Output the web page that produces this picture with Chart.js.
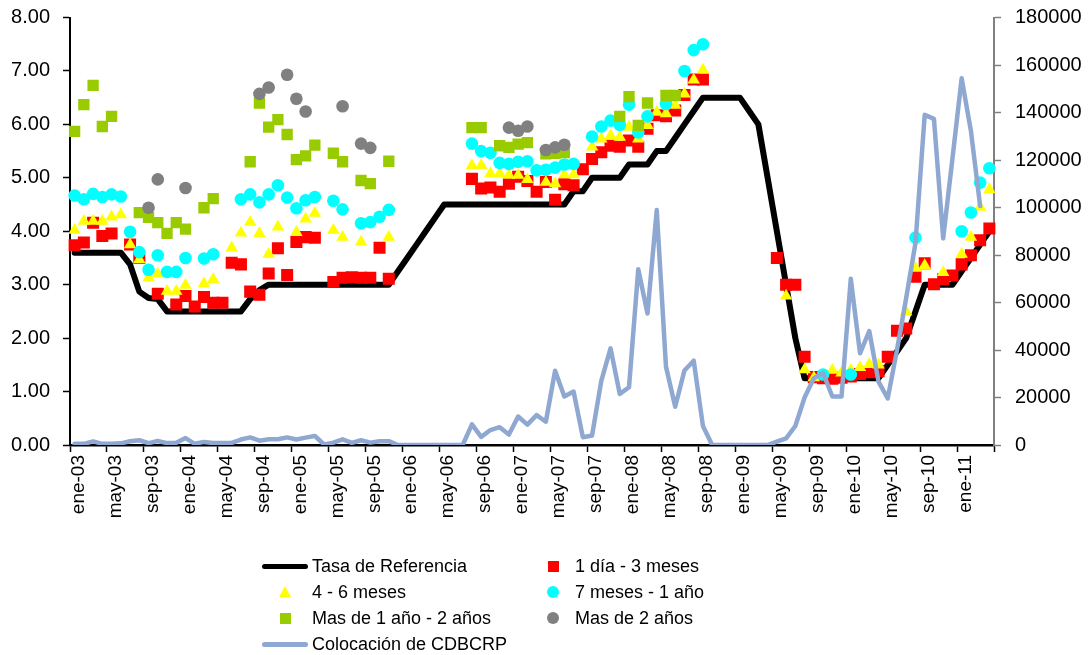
<!DOCTYPE html>
<html lang="es">
<head>
<meta charset="utf-8">
<title>Tasa de referencia y tasas de CDBCRP</title>
<script src="https://cdn.jsdelivr.net/npm/chart.js@4.4.1/dist/chart.umd.min.js"></script>
<style>
  html, body { margin: 0; padding: 0; background: #fff; }
  #wrap { position: relative; width: 1092px; height: 655px; overflow: hidden; }
  #grafico { position: absolute; left: 0; top: 0; }
  #leyenda { position: absolute; left: 0; top: 0; width: 1092px; height: 655px; pointer-events: none;
             font-family: "Liberation Sans", Arial, sans-serif; font-size: 18px; color: #000; }
  .item { position: absolute; height: 22px; line-height: 22px; white-space: nowrap; }
  .item .txt { position: absolute; top: 0; }
  .mk { position: absolute; }
</style>
</head>
<body>
<div id="wrap">
  <canvas id="grafico" width="1092" height="655"></canvas>
  <div id="leyenda"></div>
</div>
<script>
// Meses (ene-03 a abr-11)
const categorias = [
  'ene-03','feb-03','mar-03','abr-03','may-03','jun-03','jul-03','ago-03','sep-03','oct-03','nov-03','dic-03',
  'ene-04','feb-04','mar-04','abr-04','may-04','jun-04','jul-04','ago-04','sep-04','oct-04','nov-04','dic-04',
  'ene-05','feb-05','mar-05','abr-05','may-05','jun-05','jul-05','ago-05','sep-05','oct-05','nov-05','dic-05',
  'ene-06','feb-06','mar-06','abr-06','may-06','jun-06','jul-06','ago-06','sep-06','oct-06','nov-06','dic-06',
  'ene-07','feb-07','mar-07','abr-07','may-07','jun-07','jul-07','ago-07','sep-07','oct-07','nov-07','dic-07',
  'ene-08','feb-08','mar-08','abr-08','may-08','jun-08','jul-08','ago-08','sep-08','oct-08','nov-08','dic-08',
  'ene-09','feb-09','mar-09','abr-09','may-09','jun-09','jul-09','ago-09','sep-09','oct-09','nov-09','dic-09',
  'ene-10','feb-10','mar-10','abr-10','may-10','jun-10','jul-10','ago-10','sep-10','oct-10','nov-10','dic-10',
  'ene-11','feb-11','mar-11','abr-11'
];

// Tasa de referencia (%)
const tasaReferencia = [
  3.60,3.60,3.60,3.60,3.60,3.60,3.38,2.87,2.75,2.73,2.50,2.50,
  2.50,2.50,2.50,2.50,2.50,2.50,2.50,2.73,2.90,3.00,3.00,3.00,
  3.00,3.00,3.00,3.00,3.00,3.00,3.00,3.00,3.00,3.00,3.00,3.25,
  3.50,3.75,4.00,4.25,4.50,4.50,4.50,4.50,4.50,4.50,4.50,4.50,
  4.50,4.50,4.50,4.50,4.50,4.50,4.75,4.75,5.00,5.00,5.00,5.00,
  5.25,5.25,5.25,5.50,5.50,5.75,6.00,6.25,6.50,6.50,6.50,6.50,
  6.50,6.25,6.00,5.00,4.00,3.00,2.00,1.25,1.25,1.25,1.25,1.25,
  1.25,1.25,1.25,1.25,1.50,1.75,2.00,2.50,3.00,3.00,3.00,3.00,
  3.25,3.50,3.75,4.00
];

// 1 dia - 3 meses (%)
const plazo1d3m = [
  3.74,3.79,4.16,3.91,3.96,null,3.75,3.50,null,2.83,null,2.63,
  2.79,2.59,2.77,2.66,2.66,3.41,3.38,2.87,2.81,3.21,3.68,3.18,
  3.80,3.89,3.88,null,3.05,3.13,3.14,3.13,3.13,3.69,3.11,null,
  null,null,null,null,null,null,null,4.98,4.80,4.82,4.74,4.89,
  5.02,4.94,4.74,4.92,4.59,4.88,4.86,5.16,5.35,5.48,5.60,5.58,
  5.70,5.58,5.92,6.17,6.15,6.26,6.55,6.84,6.84,null,null,null,
  null,null,null,null,3.50,3.00,3.00,1.65,1.27,1.25,1.24,1.26,
  1.28,1.33,1.36,1.38,1.65,2.14,2.18,3.15,3.40,3.01,3.10,3.17,
  3.38,3.55,3.83,4.05
];

// 4 - 6 meses (%)
const plazo4m6m = [
  4.02,4.19,4.19,4.19,4.27,4.31,3.75,3.47,3.13,3.20,2.88,2.88,
  2.99,null,3.02,3.10,null,3.69,3.97,4.17,3.96,3.57,4.08,null,
  3.98,4.23,4.34,null,4.02,3.89,null,3.80,null,null,3.89,null,
  null,null,null,null,null,null,null,5.23,5.23,5.08,5.08,5.05,
  5.05,4.97,null,4.92,4.89,5.06,5.06,null,5.58,5.73,5.79,5.76,
  5.95,5.73,5.98,6.23,6.20,6.36,6.57,6.83,7.02,null,null,null,
  null,null,null,null,null,2.79,null,1.41,1.26,null,1.40,1.35,
  1.40,1.45,1.51,1.50,null,null,2.49,3.31,3.36,null,3.23,null,
  3.57,3.89,4.45,4.78
];

// 7 meses - 1 año (%)
const plazo7m1a = [
  4.67,4.60,4.70,4.64,4.69,4.65,3.99,3.61,3.28,3.55,3.24,3.24,
  3.50,null,3.49,3.57,null,null,4.60,4.69,4.54,4.69,4.86,4.63,
  4.43,4.58,4.64,null,4.57,4.41,null,4.15,4.17,4.27,4.40,null,
  null,null,null,null,null,null,null,5.64,5.50,5.47,5.28,5.26,
  5.30,5.31,5.14,5.15,5.19,5.25,5.26,null,5.77,5.96,6.07,5.99,
  6.37,5.85,6.15,null,6.38,null,7.00,7.39,7.50,null,null,null,
  null,null,null,null,null,null,null,null,null,1.32,null,null,
  1.32,null,null,null,null,null,null,3.88,null,null,null,null,
  4.00,4.35,4.91,5.18
];

// Mas de 1 año - 2 años (%)
const plazo1a2a = [
  5.87,6.37,6.73,5.96,6.15,null,null,4.35,4.26,4.16,3.96,4.16,
  4.04,null,4.44,4.61,null,null,null,5.30,6.40,5.95,6.09,5.81,
  5.34,5.41,5.61,null,5.46,5.30,null,4.95,4.89,null,5.31,null,
  null,null,null,null,null,null,null,5.94,5.94,null,5.60,5.57,
  5.63,5.66,null,5.45,5.46,5.47,null,null,null,null,null,6.15,
  6.52,5.98,6.40,null,6.54,6.54,null,null,null,null,null,null,
  null,null,null,null,null,null,null,null,null,null,null,null,
  null,null,null,null,null,null,null,null,null,null,null,null,
  null,null,null,null
];

// Mas de 2 años (%)
const plazoMas2a = [
  null,null,null,null,null,null,null,null,4.44,4.97,null,null,
  4.81,null,null,null,null,null,null,null,6.57,6.69,null,6.93,
  6.48,6.24,null,null,null,6.34,null,5.64,5.56,null,null,null,
  null,null,null,null,null,null,null,null,null,null,null,5.94,
  5.88,5.96,null,5.52,5.57,5.62,null,null,null,null,null,null,
  null,null,null,null,null,null,null,null,null,null,null,null,
  null,null,null,null,null,null,null,null,null,null,null,null,
  null,null,null,null,null,null,null,null,null,null,null,null,
  null,null,null,null
];

// Colocación de CDBCRP (millones, eje derecho)
const colocacionCDBCRP = [
  500,500,1500,500,500,700,1600,2000,800,1700,800,900,
  2900,500,1300,800,800,900,2300,3200,1800,2400,2400,3200,
  2300,3100,3800,200,1000,2400,900,2000,1000,1600,1600,0,
  0,0,0,0,0,0,0,8700,3400,6300,7500,4400,
  12000,8600,12600,9800,31300,20400,22500,3300,4000,27000,40700,21500,
  24300,74000,55400,98900,33000,16100,31400,35500,8000,0,0,0,
  0,0,0,0,1400,2800,8000,20000,28100,30400,20400,20400,
  70000,38600,48000,26700,19600,40000,62000,85000,139000,137300,87000,120500,
  154400,132300,100600,null
];

const FUENTE = '"Liberation Sans", Arial, sans-serif';

function serieMarcas(label, data, estilo, radio, color, orden) {
  return {
    type: 'line', label, data, yAxisID: 'y', showLine: false, order: orden,
    pointStyle: estilo, pointRadius: radio, pointHoverRadius: radio,
    pointBackgroundColor: color, pointBorderColor: color, pointBorderWidth: 0,
    backgroundColor: color, borderColor: color,
    legendMarker: estilo
  };
}

const datasets = [
  { type: 'line', label: 'Tasa de Referencia', data: tasaReferencia, yAxisID: 'y', order: 6,
    borderColor: '#000000', backgroundColor: '#000000', borderWidth: 6, pointRadius: 0,
    borderJoinStyle: 'round', borderCapStyle: 'round', tension: 0, legendMarker: 'line' },
  serieMarcas('1 día - 3 meses', plazo1d3m, 'rect', 8.5, '#FF0000', 5),
  serieMarcas('4 - 6 meses', plazo4m6m, 'triangle', 7.2, '#FFFF00', 4),
  serieMarcas('7 meses  - 1 año', plazo7m1a, 'circle', 6.3, '#00FFFF', 3),
  serieMarcas('Mas de 1 año - 2 años', plazo1a2a, 'rect', 8, '#99CC00', 2),
  serieMarcas('Mas de 2 años', plazoMas2a, 'circle', 6.3, '#808080', 1),
  { type: 'line', label: 'Colocación de CDBCRP', data: colocacionCDBCRP, yAxisID: 'y1', order: 0,
    borderColor: '#8FA8D1', backgroundColor: '#8FA8D1', borderWidth: 4.5, pointRadius: 0,
    borderJoinStyle: 'round', borderCapStyle: 'round', tension: 0, legendMarker: 'line' }
];

// Ejes verticales con ancho fijo y sin margen superior extra
function ajustarEjeVertical(ancho) {
  return (s) => { s.width = ancho; s.paddingTop = 0; s.paddingBottom = 0; };
}

const grafico = new Chart(document.getElementById('grafico'), {
  data: { labels: categorias, datasets },
  options: {
    responsive: false,
    animation: false,
    devicePixelRatio: 1,
    layout: { padding: { left: 8, right: 8, top: 17.5, bottom: 130 } },
    plugins: { legend: { display: false }, tooltip: { enabled: false } },
    scales: {
      x: {
        type: 'category',
        offset: true,
        grid: {
          display: true, drawOnChartArea: false, offset: true, tickLength: 7, tickWidth: 1.5,
          tickColor: (ctx) => (ctx.index === undefined || ctx.index % 4 === 0) ? '#000' : 'rgba(0,0,0,0)'
        },
        border: { display: true, color: '#000', width: 2.5 },
        ticks: {
          autoSkip: false, minRotation: 90, maxRotation: 90, padding: 3, labelOffset: 4, color: '#000',
          font: { family: FUENTE, size: 19 },
          callback: function (v, i) { return i % 4 === 0 ? this.getLabelForValue(v) : ''; }
        },
        afterFit: (s) => { s.height = 80; s.paddingLeft = 0; s.paddingRight = 0; }
      },
      y: {
        position: 'left', min: 0, max: 8,
        grid: { drawOnChartArea: false, tickLength: 7, tickColor: '#000', tickWidth: 1.5 },
        border: { display: true, color: '#000', width: 2 },
        ticks: { stepSize: 1, padding: 13, color: '#000', font: { family: FUENTE, size: 20 },
                 callback: (v) => v.toFixed(2) },
        afterFit: ajustarEjeVertical(62)
      },
      y1: {
        position: 'right', min: 0, max: 180000,
        grid: { drawOnChartArea: false, tickLength: 7, tickColor: '#808080', tickWidth: 1.5 },
        border: { display: true, color: '#808080', width: 2 },
        ticks: { stepSize: 20000, padding: 14, color: '#000', font: { family: FUENTE, size: 20 },
                 callback: (v) => String(v) },
        afterFit: ajustarEjeVertical(90)
      }
    }
  }
});

// Leyenda en dos columnas, construida a partir de las series del gráfico
(function construirLeyenda() {
  const cont = document.getElementById('leyenda');
  const posiciones = [
    { x: 262, y: 566 }, { x: 553, y: 566 },
    { x: 262, y: 592 }, { x: 553, y: 592 },
    { x: 262, y: 618 }, { x: 553, y: 618 },
    { x: 262, y: 644 }
  ];
  grafico.data.datasets.forEach((ds, k) => {
    const p = posiciones[k];
    const item = document.createElement('div');
    item.className = 'item';
    item.style.left = '0px';
    item.style.top = (p.y - 11) + 'px';
    const mk = document.createElement('div');
    mk.className = 'mk';
    const color = ds.borderColor;
    const cx = k % 2 === 0 ? p.x + 23 : p.x;
    if (ds.legendMarker === 'line') {
      Object.assign(mk.style, { left: p.x + 'px', top: '8.5px', width: '46px',
        height: '5px', background: color, borderRadius: '3px' });
    } else if (ds.legendMarker === 'rect') {
      Object.assign(mk.style, { left: (cx - 5.5) + 'px', top: '5.5px', width: '11px', height: '11px', background: color });
    } else if (ds.legendMarker === 'circle') {
      Object.assign(mk.style, { left: (cx - 6) + 'px', top: '5px', width: '12px', height: '12px', background: color, borderRadius: '50%' });
    } else if (ds.legendMarker === 'triangle') {
      Object.assign(mk.style, { left: (cx - 6.5) + 'px', top: '5px', width: '0', height: '0',
        borderLeft: '6.5px solid transparent', borderRight: '6.5px solid transparent', borderBottom: '11px solid ' + color });
    }
    item.appendChild(mk);
    const txt = document.createElement('span');
    txt.className = 'txt';
    txt.style.left = (k % 2 === 0 ? p.x + 50 : p.x + 22) + 'px';
    txt.textContent = ds.label;
    item.appendChild(txt);
    cont.appendChild(item);
  });
})();
</script>
</body>
</html>
